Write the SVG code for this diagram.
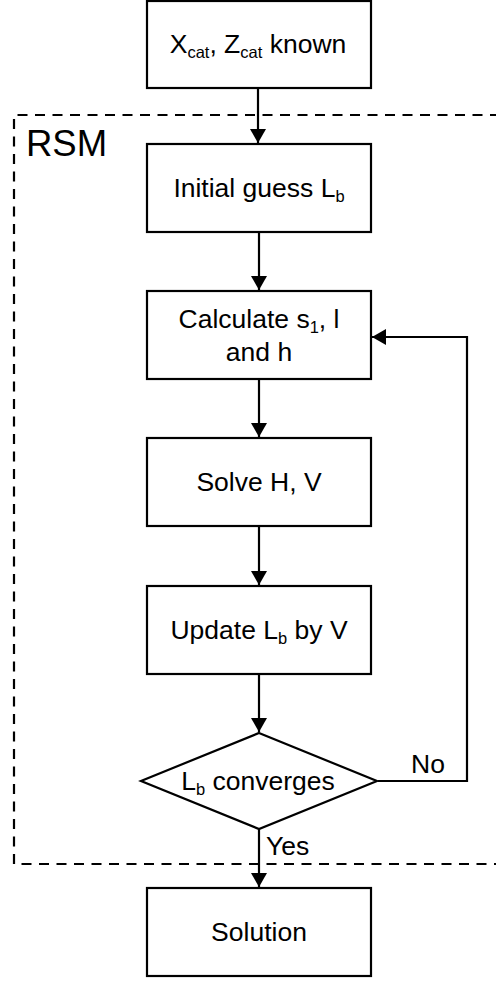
<svg xmlns="http://www.w3.org/2000/svg" width="496" height="981" viewBox="0 0 496 981">
<defs>
<style>
.box{fill:#fff;stroke:#000;stroke-width:2.2}
.t{font-family:"Liberation Sans",Arial,sans-serif;font-size:26.5px;fill:#000;text-anchor:middle}
.lbl{font-family:"Liberation Sans",Arial,sans-serif;font-size:26.5px;fill:#000}
.c{fill:none;stroke:#000;stroke-width:2.2}
.sub{font-size:16.5px}
</style>
<marker id="ah" markerUnits="userSpaceOnUse" markerWidth="16" markerHeight="17" refX="14" refY="8" orient="auto">
<path d="M0,0 L14,8 L0,16 z" fill="#000"/>
</marker>
</defs>
<rect width="496" height="981" fill="#fff"/>
<g id="rsm-region">
<path d="M500,115 H14 V864 H500" fill="none" stroke="#000" stroke-width="2.2" stroke-dasharray="10,7.5"/>
<text class="lbl" x="26" y="156" style="font-size:36.5px">RSM</text>
</g>
<g id="connectors">
<line class="c" x1="258" y1="89" x2="258" y2="143" marker-end="url(#ah)"/>
<line class="c" x1="259" y1="233" x2="259" y2="290" marker-end="url(#ah)"/>
<line class="c" x1="259" y1="380" x2="259" y2="437" marker-end="url(#ah)"/>
<line class="c" x1="259" y1="527" x2="259" y2="585" marker-end="url(#ah)"/>
<line class="c" x1="259" y1="675" x2="259" y2="732" marker-end="url(#ah)"/>
<line class="c" x1="259" y1="829" x2="259" y2="887" marker-end="url(#ah)"/>
<path class="c" d="M378,781 H467 V337 H372" marker-end="url(#ah)"/>
<text class="lbl" x="411" y="773">No</text>
<text class="lbl" x="266" y="855">Yes</text>
</g>
<g id="start">
<rect class="box" x="147" y="1" width="224" height="87"/>
<text class="t" x="258" y="53">X<tspan class="sub" dy="5">cat</tspan><tspan dy="-5">, Z</tspan><tspan class="sub" dy="5">cat</tspan><tspan dy="-5"> known</tspan></text>
</g>
<g id="initial-guess">
<rect class="box" x="147" y="144" width="224" height="88"/>
<text class="t" x="259" y="197">Initial guess L<tspan class="sub" dy="5">b</tspan></text>
</g>
<g id="calculate">
<rect class="box" x="147" y="291" width="224" height="88"/>
<text class="t" x="259" y="328">Calculate s<tspan class="sub" dy="5">1</tspan><tspan dy="-5">, l</tspan></text>
<text class="t" x="259" y="361">and h</text>
</g>
<g id="solve">
<rect class="box" x="147" y="438" width="224" height="88"/>
<text class="t" x="259" y="491">Solve H, V</text>
</g>
<g id="update">
<rect class="box" x="147" y="586" width="224" height="88"/>
<text class="t" x="259" y="639">Update L<tspan class="sub" dy="5">b</tspan><tspan dy="-5"> by V</tspan></text>
</g>
<g id="converges">
<polygon class="box" points="259,733 377,781 259,829 141,781"/>
<text class="t" x="258" y="790">L<tspan class="sub" dy="5">b</tspan><tspan dy="-5"> converges</tspan></text>
</g>
<g id="solution">
<rect class="box" x="147" y="888" width="224" height="88"/>
<text class="t" x="259" y="941">Solution</text>
</g>
</svg>
